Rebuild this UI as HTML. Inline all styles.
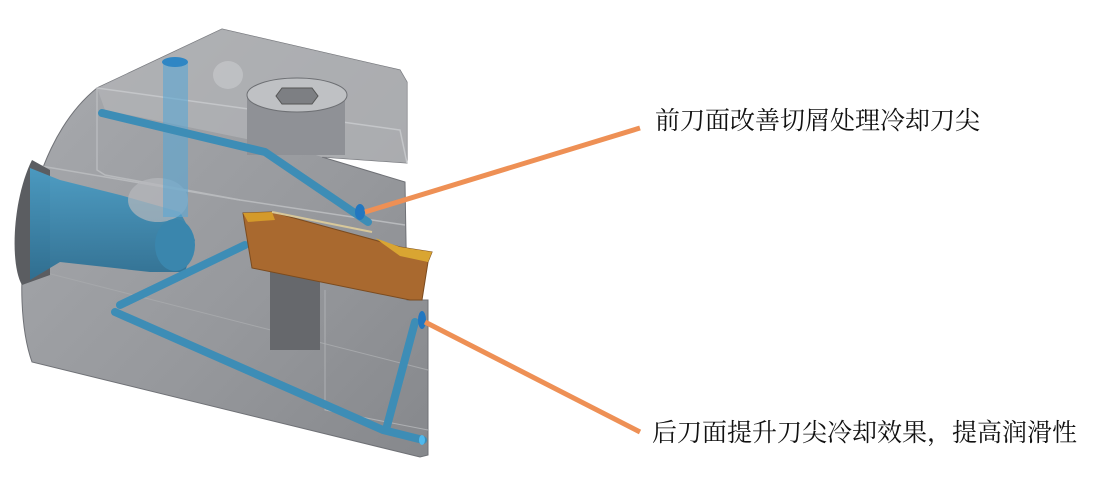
<!DOCTYPE html>
<html><head><meta charset="utf-8"><style>
html,body{margin:0;padding:0;background:#fff;width:1111px;height:478px;overflow:hidden}
svg{display:block}
text{font-family:"Liberation Serif","Noto Serif CJK SC",serif;font-size:25px;fill:#111}
</style></head><body>
<svg width="1111" height="478" viewBox="0 0 1111 478">
<defs>
<linearGradient id="g" x1="0" y1="0" x2="1" y2="1">
<stop offset="0" stop-color="#a9abaf"/><stop offset="0.6" stop-color="#96989c"/><stop offset="1" stop-color="#86888c"/>
</linearGradient>
<linearGradient id="bl" x1="0" y1="0" x2="0" y2="1">
<stop offset="0" stop-color="#4a9cc4"/><stop offset="1" stop-color="#2e6f92"/>
</linearGradient>
</defs>
<!-- body -->
<path d="M97,88 L222,29 L400,70 L407,82 L407,163 L322,157 L405,182 L407,300 L428,300 L428,455 L420,457 L32,362 C10,300 20,150 97,88 Z" fill="url(#g)" stroke="#6f7176" stroke-width="1"/>
<!-- lighter top block -->
<path d="M97,88 L222,29 L400,70 L407,82 L407,163 L322,157 L300,150 L105,110 Z" fill="#b3b5b8" opacity="0.7"/>
<path d="M97,88 L400,130 L407,163" fill="none" stroke="#c4c6c9" stroke-width="1.5"/>
<path d="M97,88 L97,170 L105,175 L240,200 L405,225" fill="none" stroke="#b8babd" stroke-width="1.5"/>
<path d="M35,165 L240,200" fill="none" stroke="#b8babd" stroke-width="1.5"/>
<path d="M35,270 L428,370" fill="none" stroke="#a6a8ab" stroke-width="1"/>
<path d="M325,290 L325,410 L428,430" fill="none" stroke="#aeb0b3" stroke-width="1"/>
<!-- left dark hole -->
<path d="M32,160 C12,200 10,265 22,285 L50,275 L50,170 Z" fill="#5b5d61"/>
<!-- big blue cylinder -->
<path d="M30,168 L60,180 L120,195 L180,212 L195,240 L185,272 L150,272 L60,262 L30,280 Z" fill="url(#bl)" opacity="0.95"/>
<ellipse cx="158" cy="200" rx="30" ry="22" fill="#b6b8bc" opacity="0.7"/>
<ellipse cx="175" cy="245" rx="20" ry="26" fill="#3a86ad"/>
<!-- screw & cylinder -->
<rect x="247" y="95" width="98" height="60" fill="#8f9196"/>
<ellipse cx="297" cy="95" rx="50" ry="17" fill="#bfc1c4" stroke="#6d6f73"/>
<polygon points="282,88 312,88 318,96 312,104 282,104 276,96" fill="#7d7f83" stroke="#555"/>
<ellipse cx="228" cy="75" rx="15" ry="14" fill="#c9cbce" opacity="0.6"/>
<rect x="270" y="265" width="50" height="85" fill="#66686c"/>
<!-- translucent vertical tube -->
<rect x="163" y="62" width="25" height="155" fill="#5aa7d4" opacity="0.6"/>
<ellipse cx="175" cy="62" rx="13" ry="5" fill="#2f86c4"/>
<!-- blue tubes -->
<g fill="none" stroke="#3d8db6" stroke-width="8" stroke-linecap="round" stroke-linejoin="round">
<polyline points="102,113 265,152 368,222"/>
<polyline points="120,305 245,245"/>
<polyline points="115,312 383,430 423,440"/>
<polyline points="387,426 415,322"/>
</g>
<ellipse cx="422" cy="320" rx="4" ry="9" fill="#2277c0"/>
<ellipse cx="360" cy="212" rx="5" ry="8" fill="#2277c0"/>
<ellipse cx="422" cy="440" rx="3" ry="5" fill="#4fb9ee"/>
<!-- insert -->
<polygon points="243,213 272,212 400,247 432,252 428,262 422,300 410,300 252,268 245,226" fill="#a9692f" stroke="#7b4b1f" stroke-width="1"/>
<polygon points="243,213 272,212 275,220 248,222" fill="#d49a2a"/>
<polygon points="375,238 400,247 432,252 428,262 400,256" fill="#d9a532"/>
<line x1="272" y1="212" x2="372" y2="232" stroke="#d8c89a" stroke-width="2"/>
<!-- callouts -->
<line x1="365" y1="212" x2="640" y2="128" stroke="#ee9055" stroke-width="5"/>
<line x1="425" y1="322" x2="640" y2="432" stroke="#ee9055" stroke-width="5"/>
<text x="655" y="129">前刀面改善切屑处理冷却刀尖</text>
<text x="652" y="441">后刀面提升刀尖冷却效果，提高润滑性</text>
</svg>
</body></html>
